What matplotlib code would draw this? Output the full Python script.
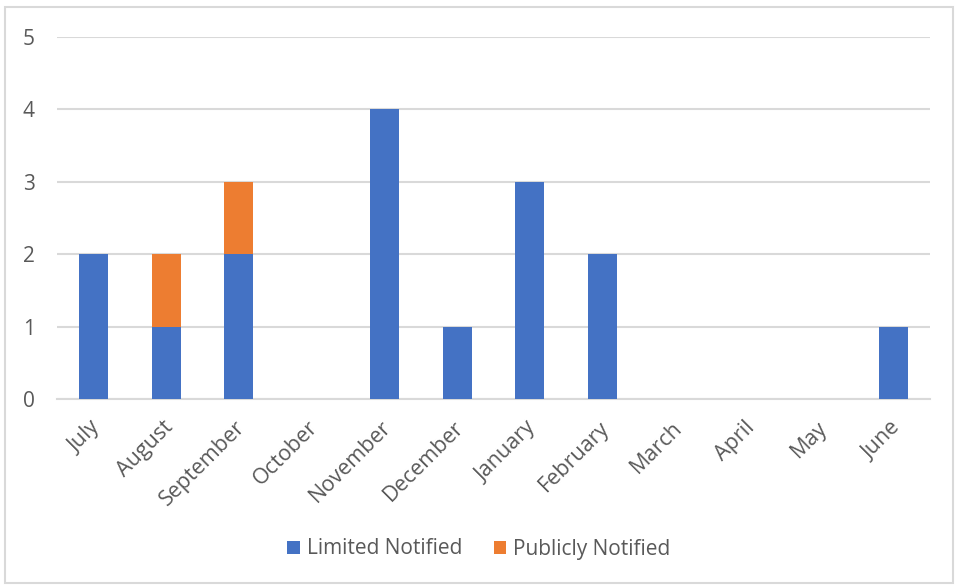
import numpy as np
import matplotlib.pyplot as plt
from matplotlib.patches import Rectangle
from matplotlib.transforms import ScaledTranslation

months = ["July", "August", "September", "October", "November", "December",
          "January", "February", "March", "April", "May", "June"]
limited = [2, 1, 2, 0, 4, 1, 3, 2, 0, 0, 0, 1]
publicly = [0, 1, 1, 0, 0, 0, 0, 0, 0, 0, 0, 0]
yticks = [0, 1, 2, 3, 4, 5]

BLUE = "#4472C4"
ORANGE = "#ED7D31"
GREY_TXT = "#595959"
GRID = "#D9D9D9"

plt.rcParams["font.family"] = ["Open Sans", "DejaVu Sans"]

fig = plt.figure(figsize=(9.58, 5.87), dpi=100)
fig.patches.append(Rectangle((5 / 958, 1 - 583 / 587), 948 / 958, 576 / 587,
                             transform=fig.transFigure, fill=False,
                             edgecolor=GRID, lw=1.5))
ax = fig.add_axes([57 / 958, 1 - 399 / 587, 873 / 958, 362 / 587])

x = np.arange(len(months))
ax.bar(x, limited, width=0.4, color=BLUE, label="Limited Notified", zorder=3)
ax.bar(x, publicly, width=0.4, bottom=limited, color=ORANGE,
       label="Publicly Notified", zorder=3)

ax.set_xlim(-0.5, len(months) - 0.5)
ax.set_ylim(0, 5)
ax.set_yticks(yticks)
ax.yaxis.grid(True, color=GRID, lw=1.5, zorder=0)
for s in ["top", "right", "left"]:
    ax.spines[s].set_visible(False)
ax.spines["bottom"].set_color(GRID)
ax.spines["bottom"].set_linewidth(1.5)
ax.tick_params(axis="y", length=0, colors=GREY_TXT, labelsize=15, pad=16)
ax.tick_params(axis="x", length=0, colors=GREY_TXT, labelsize=15.5, pad=13)
ax.set_xticks(x)
ax.set_xticklabels(months, rotation=45, ha="right", rotation_mode="anchor")
shift = ScaledTranslation(-4 / 100, 0, fig.dpi_scale_trans)
for lab in ax.get_xticklabels():
    lab.set_transform(lab.get_transform() + shift)

leg = fig.legend(loc="center", bbox_to_anchor=(0.5, 1 - 549 / 587), ncol=2,
                 frameon=False, fontsize=15, handlelength=0.6, handleheight=0.6,
                 handletextpad=0.35, columnspacing=1.5)
for t in leg.get_texts():
    t.set_color(GREY_TXT)

fig.savefig("out.png", dpi=100)
